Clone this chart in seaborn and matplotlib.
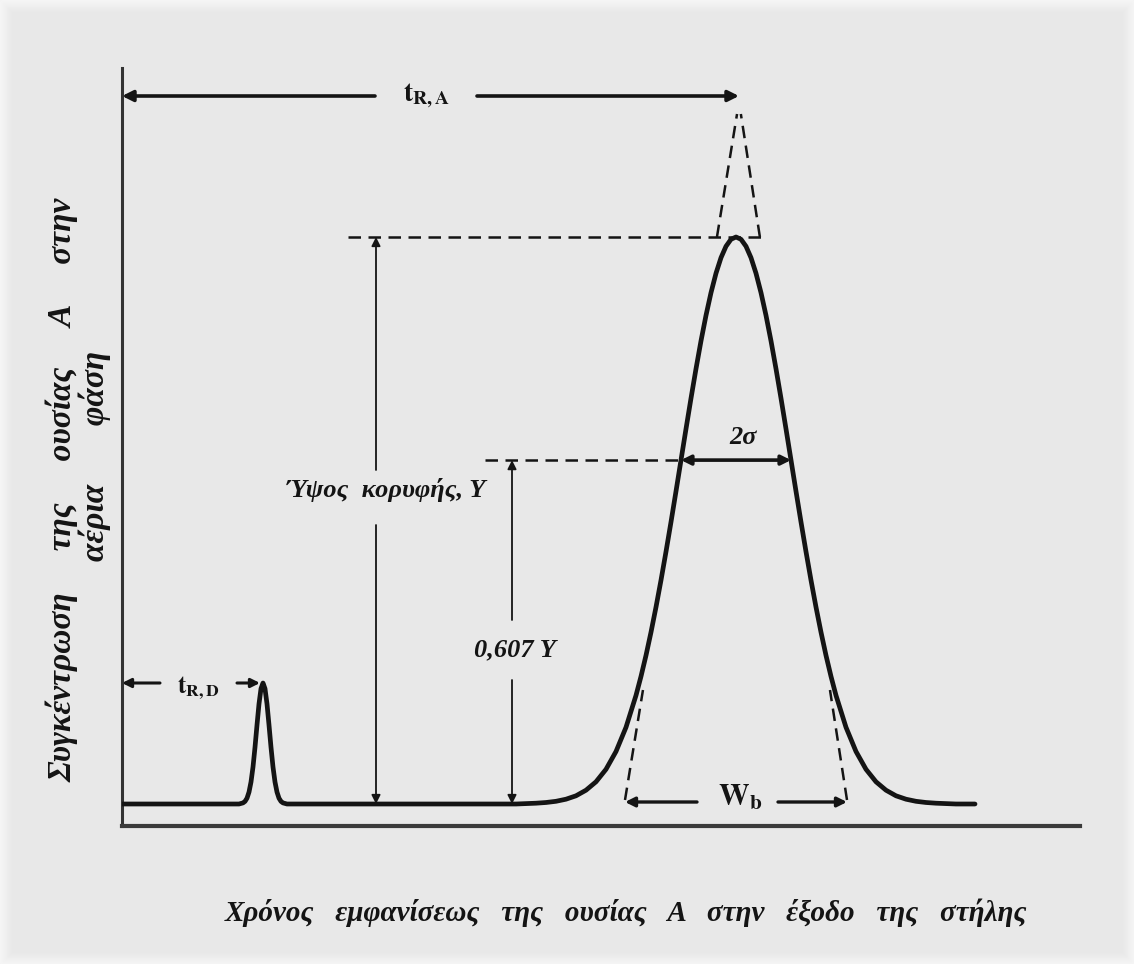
import matplotlib
matplotlib.use("Agg")
import matplotlib.pyplot as plt
from matplotlib.patches import Rectangle
import numpy as np
import pandas as pd
import seaborn as sns

# ---------------- data (time / concentration, arbitrary units) -------------
baseline_level = 2.2

small_peak_t = [11.7, 12.1, 12.3, 12.5, 12.7, 12.9, 13.1, 13.3, 13.5, 13.7, 13.9, 14.1,
                14.3, 14.5, 14.7, 14.9, 15.1, 15.3, 15.5, 15.7, 15.9, 16.1, 16.5]
small_peak_c = [2.20, 2.31, 2.46, 2.78, 3.39, 4.40, 5.90, 7.87, 10.10, 12.21, 13.74, 14.30,
                13.74, 12.21, 10.10, 7.87, 5.90, 4.40, 3.39, 2.78, 2.46, 2.31, 2.20]

main_peak_t = [39.4, 40.4, 41.4, 42.4, 43.4, 44.4, 45.4, 46.4, 47.4, 48.4, 49.4, 50.4, 51.4,
               51.9, 52.4, 52.9, 53.4, 53.9, 54.4, 54.9, 55.4, 55.9, 56.4, 56.9, 57.4, 57.9,
               58.4, 58.9, 59.4, 59.9, 60.4, 60.9, 61.4,
               61.9, 62.4, 62.9, 63.4, 63.9, 64.4, 64.9, 65.4, 65.9, 66.4, 66.9, 67.4, 67.9,
               68.4, 68.9, 69.4, 69.9, 70.4, 70.9, 71.4, 72.4, 73.4, 74.4, 75.4, 76.4, 77.4,
               78.4, 79.4, 80.4, 81.4, 82.4, 83.4]
main_peak_c = [2.20, 2.24, 2.28, 2.35, 2.47, 2.68, 3.02, 3.58, 4.42, 5.67, 7.45, 9.87, 13.06,
               14.96, 17.06, 19.38, 21.89, 24.58, 27.43, 30.40, 33.47, 36.59, 39.71, 42.77,
               45.72, 48.51, 51.06, 53.33, 55.27, 56.83, 57.97, 58.67, 58.90,
               58.67, 57.97, 56.83, 55.27, 53.33, 51.06, 48.51, 45.72, 42.77, 39.71, 36.59,
               33.47, 30.40, 27.43, 24.58, 21.89, 19.38, 17.06, 14.96, 13.06, 9.87, 7.45,
               5.67, 4.42, 3.58, 3.02, 2.68, 2.47, 2.35, 2.28, 2.24, 2.20]

trace_start, trace_end = 0.0, 85.3

peak_time = 61.4          # t_R,A
peak_height = 58.9        # Y (top of peak)
half_level = 36.59        # 0,607 Y level
sigma_left, sigma_right = 55.9, 66.9   # ends of 2σ
tangent_base_left, tangent_base_right = 50.3, 72.5
tangent_apex = (61.7, 72.4)
dead_time = 13.8          # t_R,D
dead_height = 14.3

# ---------------- figure ----------------
BG = "#e8e8e8"
INK = "#141414"
sns.set_theme(style="white")
plt.rcParams["font.family"] = ["Liberation Serif", "DejaVu Serif"]
plt.rcParams["mathtext.fontset"] = "stix"

W, H = 1134, 964
fig = plt.figure(figsize=(W / 100, H / 100), dpi=100, facecolor=BG)

# soft light border like the scanned reference
for i in range(12):
    a = 0.55 * (1 - i / 12)
    fig.patches.append(Rectangle((i / W, i / H), 1 - 2 * i / W, 1 - 2 * i / H,
                                 transform=fig.transFigure, fill=False,
                                 edgecolor="white", lw=1.0, alpha=a, zorder=0))

ax = fig.add_axes([122 / W, (H - 826) / H, (1080 - 122) / W, (826 - 68) / H])
ax.set_facecolor(BG)
ax.set_xlim(0, 95.8)
ax.set_ylim(0, 75.8)

trace = pd.DataFrame({
    "t": [trace_start] + small_peak_t + main_peak_t + [trace_end],
    "c": [baseline_level] + small_peak_c + main_peak_c + [baseline_level],
})
sns.lineplot(data=trace, x="t", y="c", sort=False, estimator=None, color=INK,
             linewidth=3.4, ax=ax, zorder=5)
ax.set_xlabel("")
ax.set_ylabel("")
ax.set_xticks([])
ax.set_yticks([])
for s in ["top", "right"]:
    ax.spines[s].set_visible(False)
ax.spines["left"].set_color("#333333")
ax.spines["left"].set_linewidth(2.2)
ax.spines["bottom"].set_color("#3a3a3a")
ax.spines["bottom"].set_linewidth(3.0)

dash = (0, (5, 3))
DLW = 1.8

# horizontal dashed reference lines
ax.plot([22.6, 64.1], [peak_height, peak_height], color=INK, lw=DLW, ls=dash, zorder=3)
ax.plot([36.3, sigma_left], [half_level, half_level], color=INK, lw=DLW, ls=dash, zorder=3)

# tangent lines (dashed): lower part near the base and upper part above the peak
def tangent_piece(xb, yb, xa, ya, y0, y1):
    fx = lambda yy: xb + (yy - yb) * (xa - xb) / (ya - yb)
    return [fx(y0), fx(y1)], [y0, y1]

for xb in (tangent_base_left, tangent_base_right):
    xs, ys = tangent_piece(xb, 2.6, tangent_apex[0], tangent_apex[1], 2.6, 13.6)
    ax.plot(xs, ys, color=INK, lw=DLW, ls=dash, zorder=3)
    xs, ys = tangent_piece(xb, 2.6, tangent_apex[0], tangent_apex[1], peak_height, tangent_apex[1] - 1.2)
    ax.plot(xs, ys, color=INK, lw=DLW, ls=dash, zorder=3)


def arrow(x0, y0, x1, y1, lw=1.4, ms=14, style="-|>"):
    ax.annotate("", xy=(x1, y1), xytext=(x0, y0),
                arrowprops=dict(arrowstyle=style, lw=lw, color=INK, mutation_scale=ms,
                                shrinkA=0, shrinkB=0), zorder=6)

lab = dict(family=["Liberation Serif", "DejaVu Serif"], weight="bold", style="italic",
           color=INK, ha="center", va="center")

# t_R,A
arrow(25.3, 73.0, 0.0, 73.0, lw=2.6, ms=16)
arrow(35.5, 73.0, tangent_apex[0], 73.0, lw=2.6, ms=16)
ax.text(30.4, 73.0, r"$\mathbf{t_{R,A}}$", fontsize=20, color=INK, ha="center", va="center")

# peak height Y
arrow(25.4, 35.6, 25.4, peak_height, lw=1.3, ms=13)
arrow(25.4, 30.1, 25.4, baseline_level, lw=1.3, ms=13)
ax.text(26.4, 33.6, "Ύψος  κορυφής, Y", fontsize=19, **lab)

# 0,607 Y
arrow(39.0, 20.6, 39.0, half_level, lw=1.3, ms=13)
arrow(39.0, 14.6, 39.0, baseline_level, lw=1.3, ms=13)
ax.text(39.3, 17.6, "0,607 Y", fontsize=19, **lab)

# 2σ
arrow(sigma_left, half_level, sigma_right, half_level, lw=2.6, ms=14, style="<|-|>")
ax.text(62.1, 38.9, "2σ", fontsize=19, **lab)

# W_b
arrow(57.5, 2.4, tangent_base_left, 2.4, lw=2.4, ms=14)
arrow(65.6, 2.4, tangent_base_right, 2.4, lw=2.4, ms=14)
ax.text(61.8, 2.8, r"$\mathbf{W_b}$", fontsize=22, color=INK, ha="center", va="center")

# t_R,D
arrow(3.8, dead_height, 0.0, dead_height, lw=2.2, ms=13)
arrow(11.5, dead_height, dead_time, dead_height, lw=2.2, ms=13)
ax.text(7.6, 13.8, r"$\mathbf{t_{R,D}}$", fontsize=18, color=INK, ha="center", va="center")

# axis titles
fig.text(626 / W, 1 - 913 / H,
         "Χρόνος   εμφανίσεως   της   ουσίας   Α   στην   έξοδο   της   στήλης",
         fontsize=21, **lab)
fig.text(62 / W, 1 - 490 / H, "Συγκέντρωση     της     ουσίας     Α     στην",
         fontsize=24, rotation=90, **lab)
fig.text(95 / W, 1 - 456 / H, "αέρια       φάση",
         fontsize=24, rotation=90, **lab)

fig.savefig("out.png", dpi=100, facecolor=BG)
